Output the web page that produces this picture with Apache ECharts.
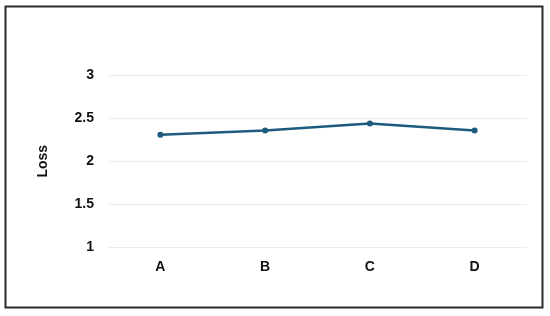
<!DOCTYPE html>
<html>
<head>
<meta charset="utf-8">
<script src="https://cdn.jsdelivr.net/npm/echarts@6/dist/echarts.min.js"></script>
<style>
  html, body { margin: 0; padding: 0; background: #fff; }
  #chart { width: 550px; height: 316px; }
</style>
</head>
<body>
<div id="chart"></div>
<script>
// data
const categories = ['A', 'B', 'C', 'D']
const lossValues = [2.31, 2.36, 2.44, 2.36]
const yTicks = { min: 1, max: 3, step: 0.5 }

const labelFont = 'Liberation Sans, Arial, sans-serif'
const lineColor = '#1d5b7d'

const chart = echarts.init(document.getElementById('chart'))
chart.setOption({
  animation: false,
  graphic: [
    {
      type: 'rect',
      shape: { x: 5.5, y: 6.5, width: 537, height: 301 },
      style: { fill: 'none', stroke: '#2a2a2a', lineWidth: 2 },
      silent: true
    }
  ],
  grid: {
    left: 108,
    right: 23,
    top: 75.5,
    bottom: 69
  },
  xAxis: {
    type: 'category',
    data: categories,
    boundaryGap: true,
    axisLine: { show: false },
    axisTick: { show: false },
    axisLabel: {
      margin: 13,
      fontFamily: labelFont,
      fontSize: 14,
      fontWeight: 'bold',
      color: '#111'
    }
  },
  yAxis: {
    type: 'value',
    min: yTicks.min,
    max: yTicks.max,
    interval: yTicks.step,
    name: 'Loss',
    nameLocation: 'middle',
    nameGap: 58,
    nameTextStyle: {
      fontFamily: labelFont,
      fontSize: 14,
      fontWeight: 'bold',
      color: '#111'
    },
    axisLine: { show: false },
    axisTick: { show: false },
    axisLabel: {
      margin: 14,
      fontFamily: labelFont,
      fontSize: 14,
      fontWeight: 'bold',
      color: '#111'
    },
    splitLine: {
      lineStyle: { color: '#ececec', width: 1 }
    }
  },
  series: [
    {
      type: 'line',
      data: lossValues,
      symbol: 'circle',
      symbolSize: 6,
      lineStyle: { color: lineColor, width: 2.5 },
      itemStyle: { color: lineColor }
    }
  ]
})
</script>
</body>
</html>
